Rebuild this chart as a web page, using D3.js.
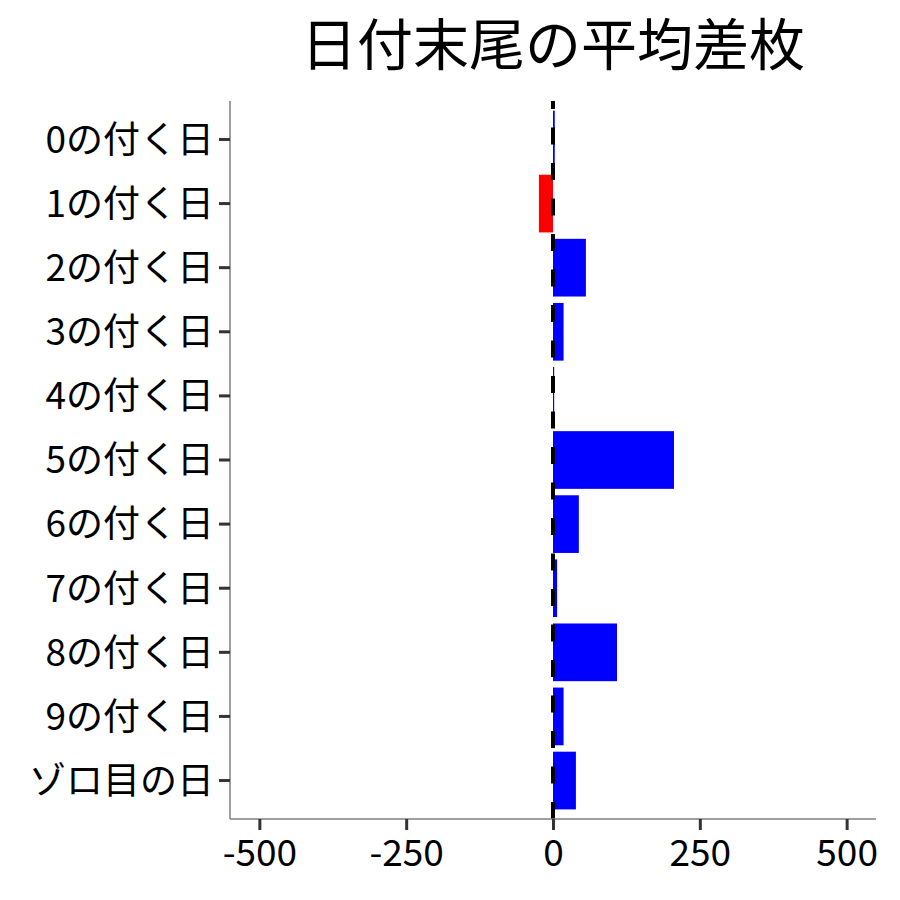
<!DOCTYPE html>
<html><head><meta charset="utf-8">
<script src="https://cdn.jsdelivr.net/npm/d3@7"></script>
<style>body{margin:0;background:#fff;} svg{display:block;}</style>
</head><body>
<script>
const categories = ["0の付く日","1の付く日","2の付く日","3の付く日","4の付く日","5の付く日","6の付く日","7の付く日","8の付く日","9の付く日","ゾロ目の日"];
const values = [3, -24, 56, 18, 2, 206, 44, 7, 109, 18, 39];
const xTicks = [-500, -250, 0, 250, 500];
const title = "日付末尾の平均差枚";

const W = 900, H = 900;
const m = {left: 230, right: 24, top: 101, bottom: 81};
const font = "'Noto Sans CJK JP', 'Noto Sans', sans-serif";

const svg = d3.select("body").append("svg").attr("width", W).attr("height", H);

const x = d3.scaleLinear().domain([-550, 550]).range([m.left, W - m.right]);
const y = d3.scaleBand().domain(categories).range([m.top, H - m.bottom]).paddingInner(0.1).paddingOuter(0.15);

const data = categories.map((c, i) => ({c, v: values[i]}));

svg.append("g").selectAll("rect").data(data).enter().append("rect")
  .attr("x", d => x(Math.min(0, d.v)))
  .attr("width", d => Math.abs(x(d.v) - x(0)))
  .attr("y", d => y(d.c))
  .attr("height", y.bandwidth())
  .attr("fill", d => d.v < 0 ? "#FF0000" : "#0000FF");

// dashed zero line (drawn from bottom to top)
svg.append("line")
  .attr("x1", x(0)).attr("x2", x(0))
  .attr("y1", H - m.bottom).attr("y2", m.top)
  .attr("stroke", "#000").attr("stroke-width", 4)
  .attr("stroke-dasharray", "17 18.5");

// axes
const yAxis = d3.axisLeft(y).tickSize(11).tickPadding(5);
const gy = svg.append("g").attr("transform", `translate(${m.left},0)`).call(yAxis);
const xAxis = d3.axisBottom(x).tickValues(xTicks).tickSize(11).tickPadding(10).tickFormat(d => String(d));
const gx = svg.append("g").attr("transform", `translate(0,${H - m.bottom})`).call(xAxis);

[gy, gx].forEach(g => {
  g.select(".domain").attr("stroke", "#7f7f7f").attr("stroke-width", 1.5);
  g.selectAll(".tick line").attr("stroke", "#333").attr("stroke-width", 3);
  g.selectAll(".tick text").attr("fill", "#000").style("font-family", font).style("font-size", "37px");
});
gx.select(".domain").attr("d", `M${m.left},0H${W - m.right}`);
gy.select(".domain").attr("d", `M0,${m.top}V${H - m.bottom}`);
gy.selectAll(".tick text").attr("dy", "0.36em");

svg.append("text")
  .attr("x", (m.left + W - m.right) / 2)
  .attr("y", 65)
  .attr("text-anchor", "middle")
  .style("font-family", font).style("font-size", "56px")
  .attr("fill", "#000")
  .text(title);
</script>
</body></html>
